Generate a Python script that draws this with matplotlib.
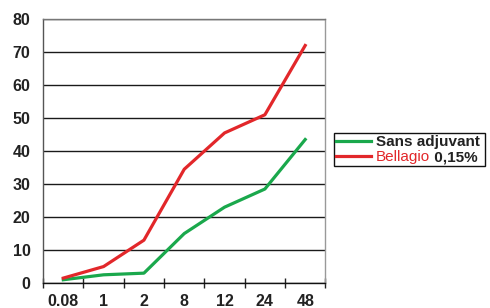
import matplotlib
matplotlib.use('Agg')
import matplotlib.pyplot as plt

plt.rcParams['font.family'] = ['Liberation Sans', 'DejaVu Sans']

hours = ['0.08', '1', '2', '8', '12', '24', '48']
sans_adjuvant = [1, 2.5, 3, 15, 23, 28.5, 43.5]
bellagio = [1.5, 5, 13, 34.5, 45.5, 51, 72]

fig = plt.figure(figsize=(4.9, 3.08), dpi=100)
ax = fig.add_axes([0.088, 0.081, 0.576, 0.857])

x = list(range(len(hours)))
ax.plot(x, sans_adjuvant, color='#1aa84c', lw=2.3, label='Sans adjuvant')
ax.plot(x, bellagio, color='#e2272a', lw=2.3, label='Bellagio 0,15%')

ax.set_xlim(-0.5, len(hours) - 0.5)
ax.set_ylim(0, 80)
ax.set_yticks(range(0, 81, 10))
ax.set_xticks([i - 0.5 for i in range(len(hours) + 1)], minor=False)
ax.set_xticklabels([''] * (len(hours) + 1))
ax.set_xticks(x, minor=True)
ax.set_xticklabels(hours, minor=True)
ax.tick_params(axis='x', which='major', direction='inout', length=7, width=1, color='#222222')
ax.tick_params(axis='x', which='minor', length=0, pad=8, labelsize=11.5)
ax.tick_params(axis='y', length=0, pad=9, labelsize=11.5)
for lbl in ax.get_xticklabels(minor=True) + ax.get_yticklabels():
    lbl.set_fontweight('bold')
    lbl.set_color('#222222')

ax.grid(axis='y', color='#1a1a1a', lw=1)
ax.set_axisbelow(True)
ax.spines['bottom'].set_color('#111111')
ax.spines['left'].set_color('#555555')
ax.spines['top'].set_color('#777777')
ax.spines['right'].set_color('#999999')
for s in ax.spines.values():
    s.set_linewidth(1)

fs = 11
leg = fig.legend(loc='upper left', bbox_to_anchor=(0.681, 0.568), frameon=True,
                 fancybox=False, edgecolor='#111111', framealpha=1, handlelength=2.3,
                 handletextpad=0.3, borderpad=0.15, labelspacing=0.05,
                 borderaxespad=0, prop={'size': fs, 'weight': 'bold'})
leg.get_frame().set_linewidth(1)
leg.get_texts()[0].set_color('#222222')

# split the second label into a red and a black part
fig.canvas.draw()
t = leg.get_texts()[1]
t.set_alpha(0)
r = fig.canvas.get_renderer()
bb = t.get_window_extent(r)
a1 = fig.text(bb.x0, bb.y0, 'Bellagio', transform=None, va='bottom', ha='left',
              color='#e2272a', fontsize=fs, zorder=10)
bb1 = a1.get_window_extent(r)
fig.text(bb1.x1, bb.y0, ' 0,15%', transform=None, va='bottom', ha='left',
         color='#222222', fontsize=fs, fontweight='bold', zorder=10)

fig.savefig('out.png', dpi=100)
